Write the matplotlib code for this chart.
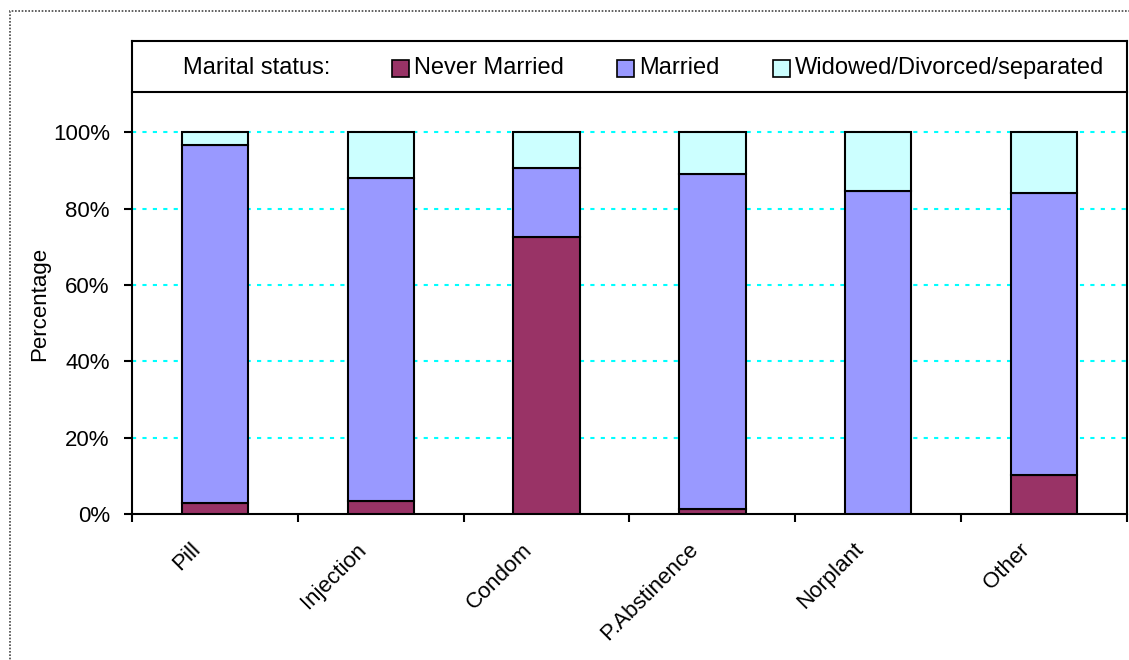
import matplotlib.pyplot as plt
import matplotlib.transforms as mtransforms
import numpy as np
from matplotlib.patches import Rectangle
from matplotlib.ticker import PercentFormatter

plt.rcParams['font.family'] = ['Liberation Sans', 'DejaVu Sans']

methods = ["Pill", "Injection", "Condom", "P.Abstinence", "Norplant", "Other"]
never_married = [2.9, 3.4, 72.5, 1.3, 0.0, 10.2]
married = [93.7, 84.7, 18.1, 87.8, 84.6, 74.0]
widowed = [3.4, 11.9, 9.4, 10.9, 15.4, 15.8]

series = [
    ("Never Married", never_married, "#993366"),
    ("Married", married, "#9999FF"),
    ("Widowed/Divorced/separated", widowed, "#CCFFFF"),
]

W, H = 1129, 660
fig = plt.figure(figsize=(W / 100, H / 100), dpi=100)

# dotted outer frame
fig.patches.append(Rectangle((10 / W, -0.05), 1.2, 1 - 11 / H + 0.05, transform=fig.transFigure,
                             fill=False, edgecolor="#444444", linestyle=(0, (1, 1)), linewidth=1.2))

ax = fig.add_axes([132 / W, (H - 514) / H, (1127 - 132) / W, (514 - 94) / H])
x = np.arange(len(methods))
bottom = np.zeros(len(methods))
for name, vals, color in series:
    vals = np.array(vals)
    ax.bar(x, vals, width=0.4, bottom=bottom, color=color, edgecolor="black", linewidth=1.5, zorder=3)
    bottom += vals

ax.set_xlim(-0.5, len(methods) - 0.5)
ax.set_ylim(0, 110)
ax.set_yticks([0, 20, 40, 60, 80, 100])
ax.yaxis.set_major_formatter(PercentFormatter(decimals=0))
for y in [20, 40, 60, 80, 100]:
    ax.axhline(y, color="#00FFFF", linestyle=(0, (2, 3)), linewidth=1.5, zorder=1)

ax.set_xticks(x)
ax.set_xticklabels(methods, rotation=45, ha="right", va="top", rotation_mode="anchor")
ax.set_xticks(np.arange(len(methods) + 1) - 0.5, minor=True)
ax.tick_params(axis="x", which="major", length=0, pad=18, labelsize=16)
ax.tick_params(axis="x", which="minor", length=6, width=1.5, direction="out")
ax.tick_params(axis="y", length=6, width=1.5, labelsize=16, pad=10)
shift = mtransforms.ScaledTranslation(-25 / 100, 0, fig.dpi_scale_trans)
for lbl in ax.get_xticklabels():
    lbl.set_transform(lbl.get_transform() + shift)
ax.set_ylabel("Percentage", fontsize=16, labelpad=2)
for side in ["left", "bottom", "right"]:
    ax.spines[side].set_linewidth(1.5)
ax.spines["top"].set_visible(False)

# legend box above the plot
lax = fig.add_axes([132 / W, (H - 92) / H, (1127 - 132) / W, (92 - 41) / H])
lax.set_xlim(132, 1127)
lax.set_ylim(92, 41)
lax.set_xticks([])
lax.set_yticks([])
for s in lax.spines.values():
    s.set_linewidth(1.5)
lax.text(183, 68, "Marital status:", fontsize=17, va="center", ha="left")
legend_x = [392, 617, 773]
for (name, vals, color), lx in zip(series, legend_x):
    lax.add_patch(Rectangle((lx, 60), 17, 17, facecolor=color, edgecolor="black", linewidth=1.2))
    lax.text(lx + 22, 68, name, fontsize=17, va="center", ha="left")

fig.savefig("out.png", dpi=100)
